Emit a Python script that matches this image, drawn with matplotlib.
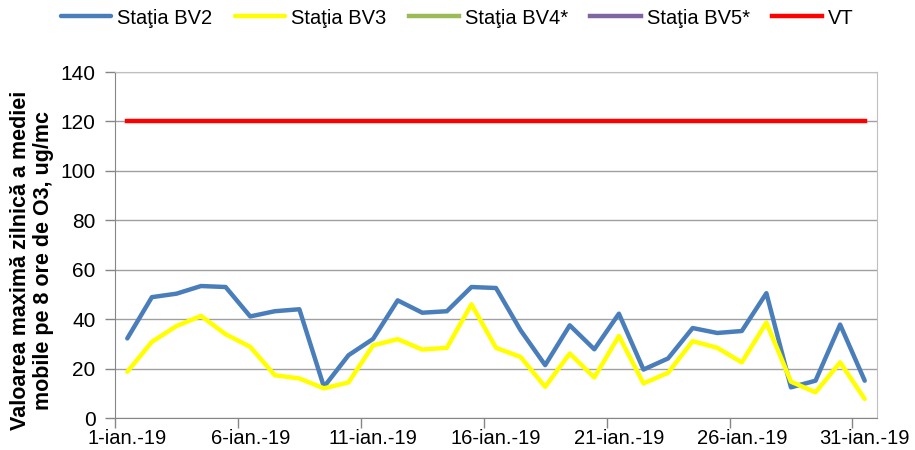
import numpy as np
import matplotlib
matplotlib.use("Agg")
import matplotlib.pyplot as plt

plt.rcParams['font.family'] = ['Liberation Sans', 'DejaVu Sans']

zile = list(range(1, 32))
etichete = ['1-ian.-19', '6-ian.-19', '11-ian.-19', '16-ian.-19',
            '21-ian.-19', '26-ian.-19', '31-ian.-19']
zile_etichete = [1, 6, 11, 16, 21, 26, 31]

bv2 = [32.2, 48.9, 50.3, 53.4, 53.0, 41.1, 43.2, 44.0, 12.6, 25.4, 32.0,
       47.6, 42.6, 43.2, 53.0, 52.6, 35.5, 21.4, 37.5, 27.8, 42.2,
       19.6, 24.1, 36.4, 34.4, 35.2, 50.5, 12.4, 15.1, 37.8, 15.1]
bv3 = [18.7, 30.8, 37.2, 41.3, 33.9, 28.8, 17.3, 16.0, 12.0, 14.4, 29.4,
       31.9, 27.7, 28.4, 46.0, 28.4, 24.7, 12.6, 26.1, 16.4, 33.2,
       14.0, 18.3, 31.1, 28.4, 22.5, 38.6, 14.7, 10.4, 22.5, 7.7]
bv4 = []
bv5 = []
vt = [120] * 31

fig = plt.figure(figsize=(9.15, 4.5), dpi=100)
ax = fig.add_axes([115 / 915, 32 / 450, 762 / 915, 346 / 450])

lw = 3.2
ax.plot(zile, bv2, color='#4A7EBB', lw=lw, label='Staţia BV2', solid_capstyle='round')
ax.plot(zile, bv3, color='#FFFF00', lw=lw, label='Staţia BV3', solid_capstyle='round')
ax.plot(zile[:len(bv4)], bv4, color='#9BBB59', lw=lw, label='Staţia BV4*')
ax.plot(zile[:len(bv5)], bv5, color='#8064A2', lw=lw, label='Staţia BV5*')
ax.plot(zile, vt, color='#FF0000', lw=lw, label='VT')

ax.set_xlim(0.5, 31.5)
ax.set_ylim(0, 140)
ax.set_yticks(np.arange(0, 141, 20))
ax.grid(axis='y', color='#A0A0A0', lw=1)
ax.set_axisbelow(True)

# tick-uri la granitele dintre zile, etichete pe zile
ax.set_xticks(np.arange(0.5, 31, 5))
ax.set_xticklabels([])
ax.set_xticks(zile_etichete, minor=True)
ax.set_xticklabels(etichete, minor=True)
ax.tick_params(axis='x', which='major', length=7, color='#868686', width=1)
ax.tick_params(axis='x', which='minor', length=0, pad=8, labelsize=14.5)
ax.tick_params(axis='y', length=7, color='#868686', width=1, pad=7, labelsize=15)

for s in ['left', 'bottom']:
    ax.spines[s].set_color('#868686')
for s in ['top', 'right']:
    ax.spines[s].set_color('#BFBFBF')

fig.text(32 / 915, 1 - 260 / 450,
         'Valoarea maximă zilnică a mediei\nmobile pe 8 ore de O3, ug/mc',
         rotation=90, ha='center', va='center', fontsize=15.5,
         fontweight='bold', linespacing=1.1)

fig.legend(loc='center', bbox_to_anchor=(0.5, 1 - 18 / 450), ncol=5,
           frameon=False, fontsize=14.5, handlelength=2.5,
           handletextpad=0.3, columnspacing=1.1)

fig.savefig('out.png', dpi=100)
